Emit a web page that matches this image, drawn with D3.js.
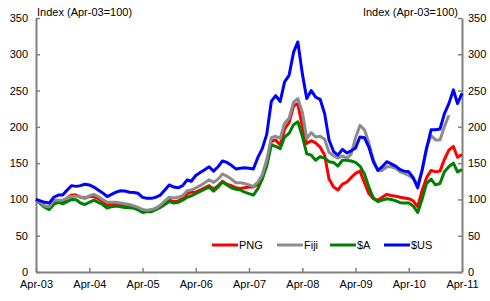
<!DOCTYPE html>
<html>
<head>
<meta charset="utf-8">
<script src="https://cdn.jsdelivr.net/npm/d3@7"></script>
<style>
  html, body { margin: 0; padding: 0; background: #fff; }
  svg { display: block; font-family: "Liberation Sans", Arial, sans-serif; }
</style>
</head>
<body>
<svg id="chart" width="490" height="301"></svg>
<script>
// Monthly index values, Apr-03 = 100 (Apr-03 .. Apr-11)
const png = [100,96,90,88,98,97,96,102,106,106,103,102,104,104,101,97,92,94,93,92,91,90,89,88,84,84,85,87,90,95,99,97,98,101,108,110,110,113,116,119,114,119,125,121,119,116,115,116,117,117,121,129,150,180,182,175,197,206,229,232,200,177,181,178,172,161,128,117,113,121,124,130,136,139,123,108,101,99,103,107,105.5,104.5,103,102,101,98,90,112,130,140,138,139,155,168,173,158,162];
const fiji = [100,96,91,90,99,99,99,102,104,104.5,103,101.5,105,107,104,100,96,96,96,95,94,93,91,89,86,85,86,88,92,98,103,102,103,105,112,113,116,119,123,127,123.5,128,135,132,128,123,123,122,120,118,124,134,155,185,187,184,205,212,234,239,220,184,192,186,187,183,165,160,157,160,157,162,185,202,196,178,155,140,140,145,145,143,138,136,133,129,120,140,172,188,182,182,200,216];
const aud = [100,94,89,86,93,96,94,97,100,99.5,95,93,96,99,96,93,88,90,91,90,89,88.5,87.7,85.5,82,83,83,86,89,93,97,95,96,99,103,105,108,111,114,117,111.5,117,124,120,116,114,113,110,108,106,115,128,146,175,173,170,186,191,203,207,187,163,161,154,159,157,152,151,146,154,154,153,151,146,135,117,102,97,99,101,100,98,95.5,95,95,91,82,100,122,128,120,122,138,145,150,138,141];
const usd = [100,98,96,95,103,106,106,113,119,118,119,121,120,117,113,109,104,107,110,112,111.5,110,109.5,108.5,103,101.5,101.5,103,106,113,120,117,116,119,127,125,133,137,141,145,139,145,153,151,147,142,143,143.5,143,142,158,170,190,235,243,235,262,271,303,317,273,239,250,241,238,218,182,166,161,169,164,167,171,186,185,172,152,140,145,152,149,146,141,139,138,130,116,140,170,196,196,197,218,232,251,232,246];

const seriesNames = ["PNG", "Fiji", "$A", "$US"];
const seriesColors = ["#ff0000", "#8c8c8c", "#008000", "#0000ff"];
const yTicks = [0, 50, 100, 150, 200, 250, 300, 350];
const xTickLabels = ["Apr-03","Apr-04","Apr-05","Apr-06","Apr-07","Apr-08","Apr-09","Apr-10","Apr-11"];
const axisTitle = "Index (Apr-03=100)";

const svg = d3.select("#chart");
const padL = 36, padR = 462, padT = 18, padB = 272;

const start = new Date(2003, 3, 1);
const dateOf = i => d3.timeMonth.offset(start, i);
const x = d3.scaleTime().domain([start, dateOf(96)]).range([padL, padR]);
const y = d3.scaleLinear().domain([0, 350]).range([padB, padT]);

const axisColor = "#808080";
function styleAxis(g) {
  g.select(".domain").attr("stroke", axisColor).attr("stroke-width", 2);
  g.selectAll(".tick line").attr("stroke", axisColor).attr("stroke-width", 1.5);
  g.selectAll(".tick text").attr("fill", "#000").style("font-size", "11px")
   .style("font-family", '"Liberation Sans", Arial, sans-serif');
}

// left axis
svg.append("g").attr("transform", `translate(${padL},0)`)
  .call(d3.axisLeft(y).tickValues(yTicks).tickSizeInner(-4).tickSizeOuter(0).tickPadding(8))
  .call(styleAxis);
// right axis
svg.append("g").attr("transform", `translate(${padR},0)`)
  .call(d3.axisRight(y).tickValues(yTicks).tickSizeInner(-4).tickSizeOuter(0).tickPadding(6))
  .call(styleAxis);
// bottom axis
const xTickDates = xTickLabels.map((_, k) => dateOf(k * 12));
svg.append("g").attr("transform", `translate(0,${padB})`)
  .call(d3.axisBottom(x).tickValues(xTickDates).tickFormat((d, k) => xTickLabels[k])
        .tickSizeInner(-4).tickSizeOuter(0).tickPadding(8))
  .call(styleAxis);

// titles
svg.append("text").attr("x", padL + 1).attr("y", 16).text(axisTitle)
  .style("font-size", "11px").attr("fill", "#000");
svg.append("text").attr("x", padR - 4).attr("y", 16).attr("text-anchor", "end").text(axisTitle)
  .style("font-size", "11px").attr("fill", "#000");

// lines
const all = [png, fiji, aud, usd];
const order = [0, 2, 1, 3]; // draw PNG, $A, Fiji, $US
const line = d3.line().x((d, i) => x(dateOf(i))).y(d => y(d));
order.forEach(k => {
  svg.append("path").datum(all[k])
    .attr("fill", "none").attr("stroke", seriesColors[k])
    .attr("stroke-width", 3).attr("stroke-linejoin", "round")
    .attr("d", line);
});

// legend
const legendX = [212, 277, 330, 384];
const lg = svg.append("g");
seriesNames.forEach((n, k) => {
  lg.append("line").attr("x1", legendX[k]).attr("x2", legendX[k] + 26)
    .attr("y1", 245).attr("y2", 245)
    .attr("stroke", seriesColors[k]).attr("stroke-width", 3);
  lg.append("text").attr("x", legendX[k] + 27).attr("y", 249).text(n)
    .style("font-size", "11px").attr("fill", "#000");
});
</script>
</body>
</html>
